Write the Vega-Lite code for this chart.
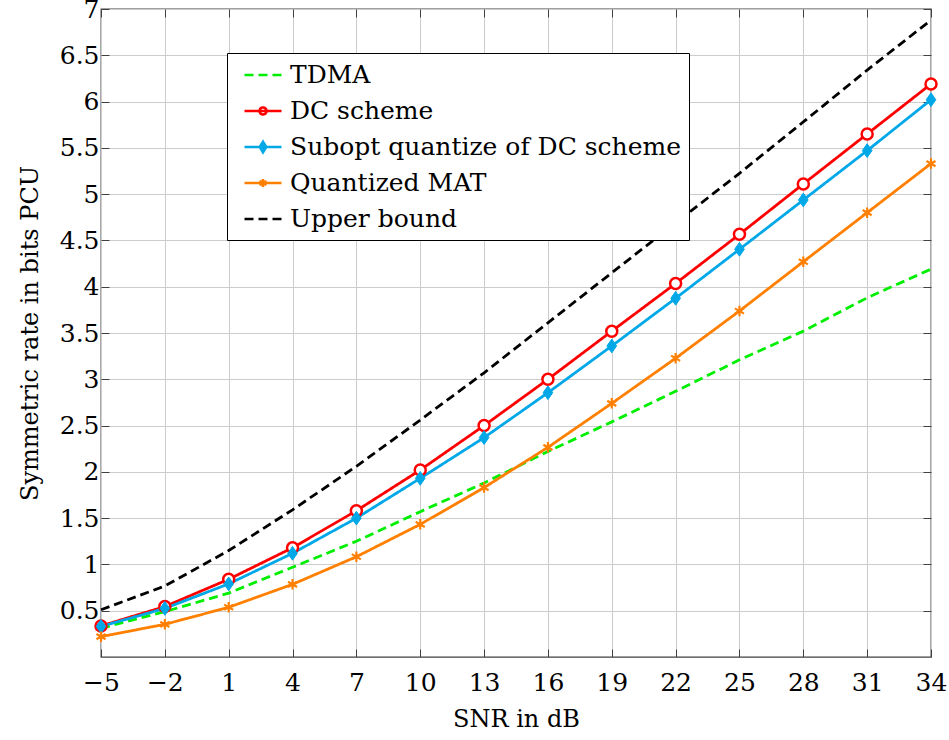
{
  "$schema": "https://vega.github.io/schema/vega-lite/v6.json",
  "width": 830,
  "height": 648,
  "autosize": {"type": "none"},
  "padding": {"left": 101, "top": 9, "right": 18, "bottom": 83},
  "background": "white",
  "config": {
    "font": "DejaVu Serif",
    "view": {"stroke": "#404040", "strokeWidth": 1.3},
    "axis": {
      "labelFont": "DejaVu Serif",
      "labelFontSize": 25,
      "labelColor": "#000000",
      "labelFlush": false,
      "labelOverlap": false,
      "titleFont": "DejaVu Serif",
      "titleFontSize": 24,
      "titleFontWeight": "normal",
      "titleColor": "#000000",
      "gridColor": "#cccccc",
      "gridWidth": 1,
      "domain": false,
      "tickColor": "#404040",
      "tickWidth": 1,
      "tickSize": -8
    }
  },
  "data": {
    "values": [
      {"x": -5, "series": "TDMA", "y": 0.31},
      {"x": -2, "series": "TDMA", "y": 0.49},
      {"x": 1, "series": "TDMA", "y": 0.69},
      {"x": 4, "series": "TDMA", "y": 0.97},
      {"x": 7, "series": "TDMA", "y": 1.25},
      {"x": 10, "series": "TDMA", "y": 1.57},
      {"x": 13, "series": "TDMA", "y": 1.88},
      {"x": 16, "series": "TDMA", "y": 2.22},
      {"x": 19, "series": "TDMA", "y": 2.54},
      {"x": 22, "series": "TDMA", "y": 2.87},
      {"x": 25, "series": "TDMA", "y": 3.21},
      {"x": 28, "series": "TDMA", "y": 3.52},
      {"x": 31, "series": "TDMA", "y": 3.88},
      {"x": 34, "series": "TDMA", "y": 4.19},
      {"x": -5, "series": "DC scheme", "y": 0.335},
      {"x": -2, "series": "DC scheme", "y": 0.545},
      {"x": 1, "series": "DC scheme", "y": 0.84},
      {"x": 4, "series": "DC scheme", "y": 1.18},
      {"x": 7, "series": "DC scheme", "y": 1.58},
      {"x": 10, "series": "DC scheme", "y": 2.02},
      {"x": 13, "series": "DC scheme", "y": 2.5},
      {"x": 16, "series": "DC scheme", "y": 3.0},
      {"x": 19, "series": "DC scheme", "y": 3.52},
      {"x": 22, "series": "DC scheme", "y": 4.035},
      {"x": 25, "series": "DC scheme", "y": 4.566},
      {"x": 28, "series": "DC scheme", "y": 5.11},
      {"x": 31, "series": "DC scheme", "y": 5.65},
      {"x": 34, "series": "DC scheme", "y": 6.19},
      {"x": -5, "series": "Subopt quantize of DC scheme", "y": 0.33},
      {"x": -2, "series": "Subopt quantize of DC scheme", "y": 0.525},
      {"x": 1, "series": "Subopt quantize of DC scheme", "y": 0.79},
      {"x": 4, "series": "Subopt quantize of DC scheme", "y": 1.12},
      {"x": 7, "series": "Subopt quantize of DC scheme", "y": 1.5},
      {"x": 10, "series": "Subopt quantize of DC scheme", "y": 1.93},
      {"x": 13, "series": "Subopt quantize of DC scheme", "y": 2.37},
      {"x": 16, "series": "Subopt quantize of DC scheme", "y": 2.855},
      {"x": 19, "series": "Subopt quantize of DC scheme", "y": 3.36},
      {"x": 22, "series": "Subopt quantize of DC scheme", "y": 3.875},
      {"x": 25, "series": "Subopt quantize of DC scheme", "y": 4.404},
      {"x": 28, "series": "Subopt quantize of DC scheme", "y": 4.937},
      {"x": 31, "series": "Subopt quantize of DC scheme", "y": 5.47},
      {"x": 34, "series": "Subopt quantize of DC scheme", "y": 6.02},
      {"x": -5, "series": "Quantized MAT", "y": 0.22},
      {"x": -2, "series": "Quantized MAT", "y": 0.353},
      {"x": 1, "series": "Quantized MAT", "y": 0.537},
      {"x": 4, "series": "Quantized MAT", "y": 0.785},
      {"x": 7, "series": "Quantized MAT", "y": 1.083},
      {"x": 10, "series": "Quantized MAT", "y": 1.433},
      {"x": 13, "series": "Quantized MAT", "y": 1.83},
      {"x": 16, "series": "Quantized MAT", "y": 2.265},
      {"x": 19, "series": "Quantized MAT", "y": 2.74},
      {"x": 22, "series": "Quantized MAT", "y": 3.227},
      {"x": 25, "series": "Quantized MAT", "y": 3.738},
      {"x": 28, "series": "Quantized MAT", "y": 4.27},
      {"x": 31, "series": "Quantized MAT", "y": 4.8},
      {"x": 34, "series": "Quantized MAT", "y": 5.33},
      {"x": -5, "series": "Upper bound", "y": 0.51},
      {"x": -2, "series": "Upper bound", "y": 0.767},
      {"x": 1, "series": "Upper bound", "y": 1.15},
      {"x": 4, "series": "Upper bound", "y": 1.59},
      {"x": 7, "series": "Upper bound", "y": 2.06},
      {"x": 10, "series": "Upper bound", "y": 2.56},
      {"x": 13, "series": "Upper bound", "y": 3.07},
      {"x": 16, "series": "Upper bound", "y": 3.61},
      {"x": 19, "series": "Upper bound", "y": 4.15},
      {"x": 22, "series": "Upper bound", "y": 4.69},
      {"x": 25, "series": "Upper bound", "y": 5.225},
      {"x": 28, "series": "Upper bound", "y": 5.78},
      {"x": 31, "series": "Upper bound", "y": 6.34},
      {"x": 34, "series": "Upper bound", "y": 6.88}
    ]
  },
  "resolve": {"axis": {"x": "independent", "y": "independent"}},
  "layer": [
    {
      "mark": {"type": "line", "strokeWidth": 2.8},
      "encoding": {
        "x": {
          "field": "x", "type": "quantitative",
          "scale": {"domain": [-5, 34], "nice": false, "zero": false},
          "axis": {"orient": "bottom", "values": [-5, -2, 1, 4, 7, 10, 13, 16, 19, 22, 25, 28, 31, 34], "format": "d", "title": "SNR in dB", "labelPadding": 21, "titlePadding": 12, "grid": true}
        },
        "y": {
          "field": "y", "type": "quantitative",
          "scale": {"domain": [0, 7], "nice": false, "zero": false},
          "axis": {"orient": "left", "values": [0.5, 1, 1.5, 2, 2.5, 3, 3.5, 4, 4.5, 5, 5.5, 6, 6.5, 7], "format": "~g", "title": "Symmetric rate in bits PCU", "labelPadding": 10, "titlePadding": 17, "grid": true}
        },
        "color": {
          "field": "series", "type": "nominal",
          "scale": {
            "domain": ["TDMA", "DC scheme", "Subopt quantize of DC scheme", "Quantized MAT", "Upper bound"],
            "range": ["#00ee00", "#ff0000", "#00a8e8", "#ff8000", "#000000"]
          },
          "legend": {
            "orient": "none", "legendX": 126, "legendY": 44, "title": null,
            "symbolSize": 625, "symbolStrokeWidth": 2.6,
            "labelFont": "DejaVu Serif", "labelFontSize": 25, "labelColor": "#000000",
            "labelOffset": 27, "padding": 8, "rowPadding": 9, "labelLimit": 700,
            "strokeColor": "#000000", "fillColor": "#ffffff",
            "encode": {
              "symbols": {
                "update": {
                  "shape": {"signal": "datum.value === 'DC scheme' ? 'M-0.36,0H2.6M1.4,0A0.28,0.28 0 1,0 0.84,0A0.28,0.28 0 1,0 1.4,0' : datum.value === 'Subopt quantize of DC scheme' ? 'M-0.36,0H2.6M1.12,-0.42L1.38,0L1.12,0.42L0.86,0Z' : datum.value === 'Quantized MAT' ? 'M-0.36,0H2.6M1.12,-0.32V0.32M0.84,-0.16L1.4,0.16M0.84,0.16L1.4,-0.16' : 'M-0.36,0H2.6'"},
                  "strokeDash": {"signal": "(datum.value === 'TDMA' || datum.value === 'Upper bound') ? [9, 5] : [1, 0]"},
                  "fill": {"signal": "datum.value === 'Subopt quantize of DC scheme' ? '#00a8e8' : 'transparent'"}
                }
              }
            }
          }
        },
        "strokeDash": {
          "field": "series", "type": "nominal",
          "scale": {
            "domain": ["TDMA", "DC scheme", "Subopt quantize of DC scheme", "Quantized MAT", "Upper bound"],
            "range": [[9, 5], [1, 0], [1, 0], [1, 0], [9, 5]]
          },
          "legend": null
        }
      }
    },
    {
      "transform": [{"filter": "datum.series === 'DC scheme'"}],
      "mark": {"type": "point", "shape": "circle", "size": 121, "filled": false, "fill": "white", "stroke": "#ff0000", "strokeWidth": 2.5, "opacity": 1},
      "encoding": {
        "x": {"field": "x", "type": "quantitative", "axis": {"orient": "top", "values": [-5, -2, 1, 4, 7, 10, 13, 16, 19, 22, 25, 28, 31, 34], "labels": false, "title": null, "grid": false}},
        "y": {"field": "y", "type": "quantitative", "axis": {"orient": "right", "values": [0.5, 1, 1.5, 2, 2.5, 3, 3.5, 4, 4.5, 5, 5.5, 6, 6.5, 7], "labels": false, "title": null, "grid": false}}
      }
    },
    {
      "transform": [{"filter": "datum.series === 'Subopt quantize of DC scheme'"}],
      "mark": {"type": "point", "shape": "M0,-1L0.7,0L0,1L-0.7,0Z", "size": 190, "filled": true, "color": "#00a8e8", "stroke": "#00a8e8", "strokeWidth": 1, "opacity": 1},
      "encoding": {
        "x": {"field": "x", "type": "quantitative", "axis": null},
        "y": {"field": "y", "type": "quantitative", "axis": null}
      }
    },
    {
      "transform": [{"filter": "datum.series === 'Quantized MAT'"}],
      "mark": {"type": "point", "shape": "M0,-1V1M-0.866,-0.5L0.866,0.5M-0.866,0.5L0.866,-0.5", "size": 110, "filled": false, "stroke": "#ff8000", "strokeWidth": 2.2, "opacity": 1},
      "encoding": {
        "x": {"field": "x", "type": "quantitative", "axis": null},
        "y": {"field": "y", "type": "quantitative", "axis": null}
      }
    }
  ]
}
